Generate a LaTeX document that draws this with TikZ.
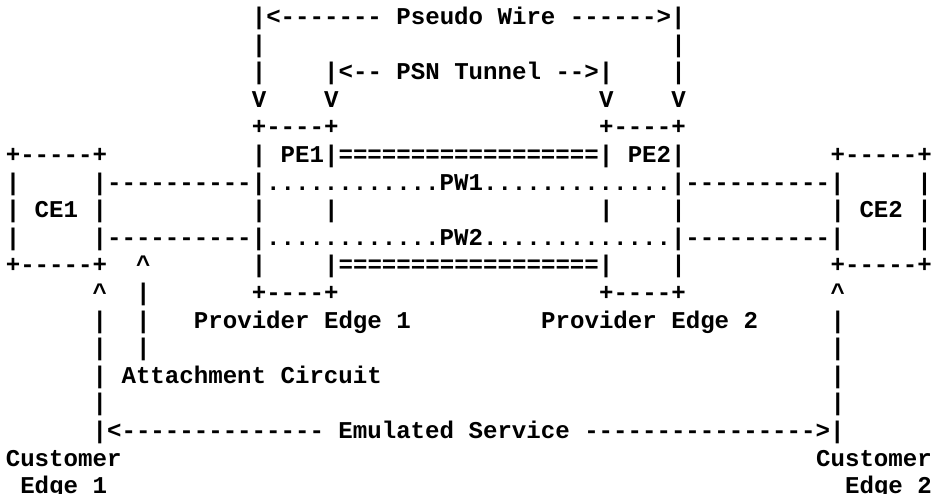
\documentclass[tikz,border=0pt]{standalone}
\usepackage{fontspec}
\newfontfamily\artfont{Liberation Mono}[Ligatures=TeXOff]

\begin{document}
\begin{tikzpicture}[
  x=14.47pt, y=-27.6pt,
  txt/.style={
    font=\artfont\bfseries\fontsize{24.1}{27.6}\selectfont,
    anchor=base west, inner sep=0pt, outer sep=0pt
  },
]
\useasboundingbox (0pt,0pt) rectangle (934pt,-493pt);

\begin{scope}[shift={(5.8pt,-24.5pt)}]

% ---- pseudo wire and PSN tunnel -----------------------------------------
\node[txt] (pw)     at (17,0) {|<------- Pseudo Wire ------>|};
\node[txt] (pwL1)   at (17,1) {|};
\node[txt] (pwR1)   at (46,1) {|};
\node[txt] (pwL2)   at (17,2) {|};
\node[txt] (tunnel) at (22,2) {|<-- PSN Tunnel -->|};
\node[txt] (pwR2)   at (46,2) {|};
\node[txt] (vA)     at (17,3) {V};
\node[txt] (vB)     at (22,3) {V};
\node[txt] (vC)     at (41,3) {V};
\node[txt] (vD)     at (46,3) {V};

% ---- provider edges and customer edges ----------------------------------
\node[txt] (pe1top) at (17,4) {+----+};
\node[txt] (pe2top) at (41,4) {+----+};

\node[txt] (ce1top) at (0,5)  {+-----+};
\node[txt] (core)   at (17,5) {| PE1|==================| PE2|};
\node[txt] (ce2top) at (57,5) {+-----+};

\node[txt] (ce1a)   at (0,6)  {|};
\node[txt] (pw1)    at (6,6)  {|----------|............PW1.............|----------|};
\node[txt] (ce2a)   at (63,6) {|};

\node[txt] (ce1)    at (0,7)  {| CE1 |};
\node[txt] (pe1L)   at (17,7) {|};
\node[txt] (pe1R)   at (22,7) {|};
\node[txt] (pe2L)   at (41,7) {|};
\node[txt] (pe2R)   at (46,7) {|};
\node[txt] (ce2)    at (57,7) {| CE2 |};

\node[txt] (ce1b)   at (0,8)  {|};
\node[txt] (pw2)    at (6,8)  {|----------|............PW2.............|----------|};
\node[txt] (ce2b)   at (63,8) {|};

\node[txt] (ce1bot)    at (0,9)  {+-----+};
\node[txt] (acHead)    at (9,9)  {\textasciicircum};
\node[txt] (pe1L2)     at (17,9) {|};
\node[txt] (tunnelbot) at (22,9) {|==================|};
\node[txt] (pe2R2)     at (46,9) {|};
\node[txt] (ce2bot)    at (57,9) {+-----+};

\node[txt] (esHeadL) at (6,10)  {\textasciicircum};
\node[txt] (acL1)    at (9,10)  {|};
\node[txt] (pe1bot)  at (17,10) {+----+};
\node[txt] (pe2bot)  at (41,10) {+----+};
\node[txt] (esHeadR) at (57,10) {\textasciicircum};

\node[txt] (esL1)    at (6,11)  {|};
\node[txt] (acL2)    at (9,11)  {|};
\node[txt] (pe1name) at (13,11) {Provider Edge 1};
\node[txt] (pe2name) at (37,11) {Provider Edge 2};
\node[txt] (esR1)    at (57,11) {|};

% ---- attachment circuit and emulated service ----------------------------
\node[txt] (esL2)    at (6,12)  {|};
\node[txt] (acL3)    at (9,12)  {|};
\node[txt] (esR2)    at (57,12) {|};
\node[txt] (ac)      at (6,13)  {| Attachment Circuit};
\node[txt] (esR3)    at (57,13) {|};
\node[txt] (esL4)    at (6,14)  {|};
\node[txt] (esR4)    at (57,14) {|};
\node[txt] (es)      at (6,15)  {|<-------------- Emulated Service ---------------->|};

\node[txt] (cust1)   at (0,16)  {Customer};
\node[txt] (cust2)   at (56,16) {Customer};
\node[txt] (edge1)   at (1,17)  {Edge 1};
\node[txt] (edge2)   at (58,17) {Edge 2};

\end{scope}
\end{tikzpicture}
\end{document}
